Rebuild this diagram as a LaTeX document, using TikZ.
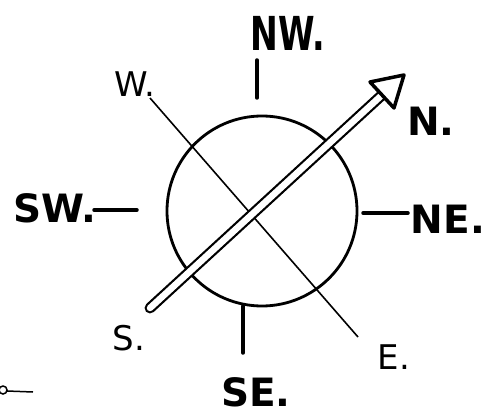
\documentclass[tikz,border=0pt]{standalone}
\usepackage{fontspec}
\newfontfamily\handfont{DejaVu Sans}
\begin{document}
\begin{tikzpicture}[x=1pt, y=-1pt,
  bold label/.style={font=\handfont\bfseries\fontsize{39}{39}\selectfont, inner sep=0pt},
  thin label/.style={font=\handfont\fontsize{34}{34}\selectfont, inner sep=0pt},
  tick/.style={line width=3.5pt, line cap=round}]
\useasboundingbox (0,0) rectangle (493,417);
% Rosa dos ventos
\node[circle, draw, line width=2.8pt, minimum size=190pt, inner sep=0pt] (rose) at (262,211) {};
% linha W--E
\coordinate (wend) at (150,98);
\coordinate (eend) at (358,337);
\draw[line width=1.6pt] (wend) -- (eend);
\node[thin label] (w) at (135,84) {W.};
\node[thin label] (e) at (394,357) {E.};
% seta S--N (haste dupla)
\coordinate (send) at (150,308);
\coordinate (base) at (382,95);
\draw[line width=2.2pt, double distance=6.5pt, line cap=round] (send) -- (base);
\draw[line width=3.5pt, line join=round, fill=white] (404,75) coordinate (tip) -- (370,82) -- (394,108) -- cycle;
\node[bold label] (n) at (431,121) {N.};
\node[thin label] (s) at (129,338) {S.};
% marcas NW, SE, SW, NE
\draw[tick] (257,60) -- (257,98);
\node[bold label, xscale=0.85, yscale=1.2, transform shape] (nw) at (288,33) {NW.};
\draw[tick] (243,306) -- (243,353);
\node[bold label] (se) at (256,392) {SE.};
\draw[tick] (94,210) -- (137,210);
\node[bold label] (sw) at (55,208) {SW.};
\draw[tick] (363,213) -- (408,213);
\node[bold label] (ne) at (448,219) {NE.};
% rabisco no canto
\draw[line width=1.5pt] (3,390) circle (4) (7,391) -- (33,392);
\end{tikzpicture}
\end{document}
